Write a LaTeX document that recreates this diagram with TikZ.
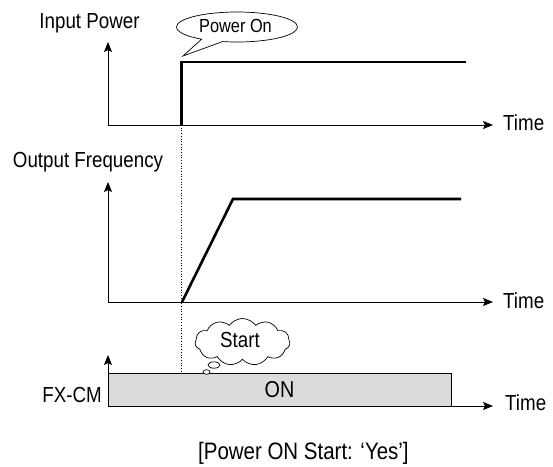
\documentclass[tikz,border=0pt]{standalone}
\usepackage{fontspec}
\setmainfont[FakeStretch=0.86]{Liberation Sans}
\usetikzlibrary{shapes.symbols,shapes.callouts,arrows.meta}
\tikzset{
  lbl/.style={inner sep=0pt, font=\fontsize{21.8}{24}\selectfont},
  axis/.style={line width=0.9pt, -{Stealth[length=10pt,width=8pt,inset=2pt]}},
  sig/.style={line width=2.6pt, line join=miter, line cap=butt},
  guide/.style={line width=0.7pt, dotted},
}
\begin{document}
\begin{tikzpicture}[x=1pt,y=-1pt]
\useasboundingbox (0,0) rectangle (553,466);
% ---------- Input power ----------
\coordinate (o1) at (108,125);
\coordinate (y1) at (108,42);
\coordinate (t1) at (493,125);
\draw[axis] (o1) -- (y1);
\draw[axis] (o1) -- (t1);
\node[lbl, anchor=base west] (time1) at (503,130) {Time};
\node[lbl, anchor=base] (ip) at (89.5,28) {Input Power};
\coordinate (s0) at (181.5,125);
\coordinate (s1) at (181.5,62);
\coordinate (s2) at (466,62);
\draw[sig] (s0) -- (s1) -- (s2);
\node[ellipse callout, draw, line width=0.7pt, fill=white, minimum width=121pt, minimum height=30pt, inner sep=0pt,
      callout absolute pointer={(183,56)}, callout pointer arc=22, font=\fontsize{19}{22}\selectfont] (pon) at (237,27) {};
\node[inner sep=0pt, anchor=base, font=\fontsize{19}{22}\selectfont] (pont) at (235.5,32.5) {Power On};
% ---------- Output frequency ----------
\coordinate (o2) at (108,302);
\coordinate (y2) at (108,182);
\coordinate (t2) at (493,302);
\draw[axis] (o2) -- (y2);
\draw[axis] (o2) -- (t2);
\node[lbl, anchor=base west] (time2) at (503,308) {Time};
\node[lbl, anchor=base] (of) at (88,167) {Output Frequency};
\coordinate (f0) at (182,302);
\coordinate (f1) at (233,199);
\coordinate (f2) at (461,199);
\draw[sig] (f0) -- (f1) -- (f2);
% ---------- FX-CM ----------
\coordinate (o3) at (108,406);
\coordinate (y3) at (108,355);
\coordinate (t3) at (493,406);
\draw[axis] (o3) -- (y3);
\draw[axis] (o3) -- (t3);
\node[draw, line width=0.9pt, fill=black!14, anchor=north west, minimum width=343pt, minimum height=33pt, inner sep=0pt] (bar) at (108,373) {};
\node[lbl, anchor=base] (on) at (279.5,397) {\fontsize{23}{26}\selectfont ON};
\node[lbl, anchor=base west] (time3) at (505,410) {Time};
\node[lbl, anchor=base east] (fx) at (102,402) {FX-CM};
% guide line
\coordinate (g0) at (181.5,125);
\coordinate (g1) at (181.5,373);
\draw[guide] (g0) -- (g1);
% Start cloud
\node[cloud, draw, line width=0.7pt, fill=white, cloud puffs=11, cloud puff arc=110, aspect=2.2,
      minimum width=95pt, minimum height=47pt, inner sep=0pt] (cl) at (242.5,342) {};
\node[lbl, anchor=base] (st) at (240,347) {Start};
\draw[line width=0.7pt, fill=white] (214,365) ellipse [x radius=6, y radius=3.2];
\draw[line width=0.7pt, fill=white] (206.5,372) ellipse [x radius=3.5, y radius=2.3];
% caption
\node[inner sep=0pt, anchor=base west, font=\fontsize{23.8}{26}\selectfont] (cap) at (198,459) {[Power ON Start: ‘Yes’]};
\end{tikzpicture}
\end{document}
